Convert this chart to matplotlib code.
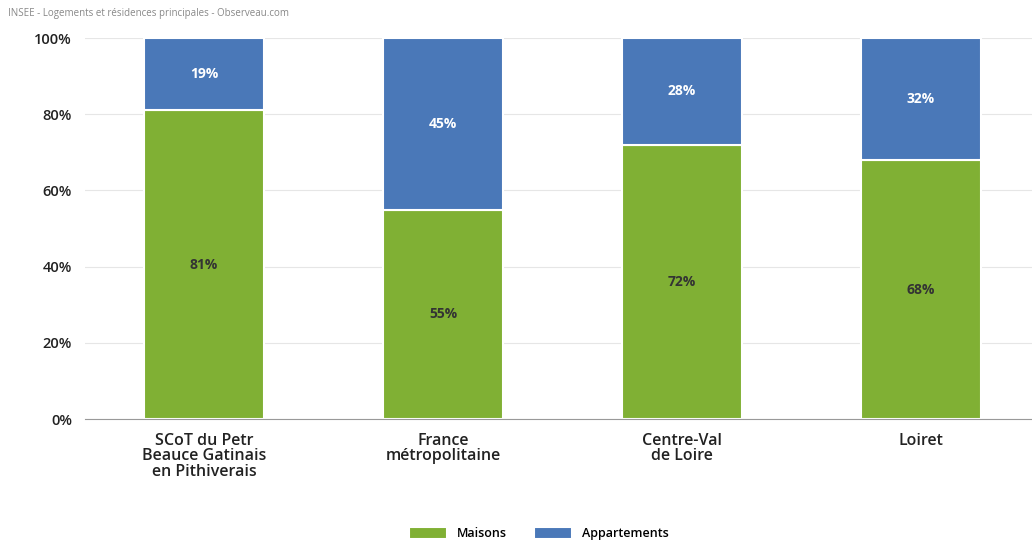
import matplotlib.pyplot as plt
import matplotlib.ticker as mticker

plt.rcParams['font.family'] = ['Open Sans', 'DejaVu Sans']

territoires = ['SCoT du Petr\nBeauce Gatinais\nen Pithiverais', 'France\nmétropolitaine',
               'Centre-Val\nde Loire', 'Loiret']
maisons = [81, 55, 72, 68]
appartements = [19, 45, 28, 32]

vert = '#80b034'
bleu = '#4a78b8'

fig = plt.figure(figsize=(10.32, 5.43), dpi=100)
ax = fig.add_axes([0.082, 0.228, 0.926, 0.702])

x = range(len(territoires))
ax.bar(x, maisons, width=0.5, color=vert, edgecolor='white', linewidth=1.5, label='Maisons', zorder=3)
ax.bar(x, appartements, width=0.5, bottom=maisons, color=bleu, edgecolor='white', linewidth=1.5,
       label='Appartements', zorder=3)

# etiquettes des valeurs
for i in x:
    ax.text(i, maisons[i] / 2, f'{maisons[i]}%', ha='center', va='center',
            fontsize=10, fontweight='bold', color='#333333', zorder=4)
    ax.text(i, maisons[i] + appartements[i] / 2, f'{appartements[i]}%', ha='center', va='center',
            fontsize=10, fontweight='bold', color='white', zorder=4)

ax.set_xlim(-0.5, 3.5)
ax.set_ylim(0, 100)
ax.set_yticks(range(0, 101, 20))
ax.yaxis.set_major_formatter(mticker.FuncFormatter(lambda v, p: f'{int(v)}%'))
ax.set_xticks(list(x))
ax.set_xticklabels(territoires, fontsize=11.5, fontweight='semibold', color='#222222', linespacing=0.95)
for lab in ax.get_yticklabels():
    lab.set_fontsize(10.5)
    lab.set_fontweight('semibold')
    lab.set_color('#222222')
ax.tick_params(axis='x', length=0, pad=10)
ax.tick_params(axis='y', length=0, pad=9)
ax.grid(axis='y', color='#e6e6e6', linewidth=0.8, zorder=0)
for s in ['top', 'right', 'left']:
    ax.spines[s].set_visible(False)
ax.spines['bottom'].set_color('#999999')
ax.spines['bottom'].set_zorder(5)

fig.text(0.008, 0.975, 'INSEE - Logements et résidences principales - Observeau.com',
         fontsize=7, color='#888888', va='center')

fig.legend(loc='center', bbox_to_anchor=(0.522, 0.018), ncol=2, frameon=False,
           prop={'size': 9, 'weight': 'semibold'},
           handlelength=3.0, handleheight=1.1, columnspacing=2.2, handletextpad=0.8)

fig.savefig('out.png', dpi=100)
